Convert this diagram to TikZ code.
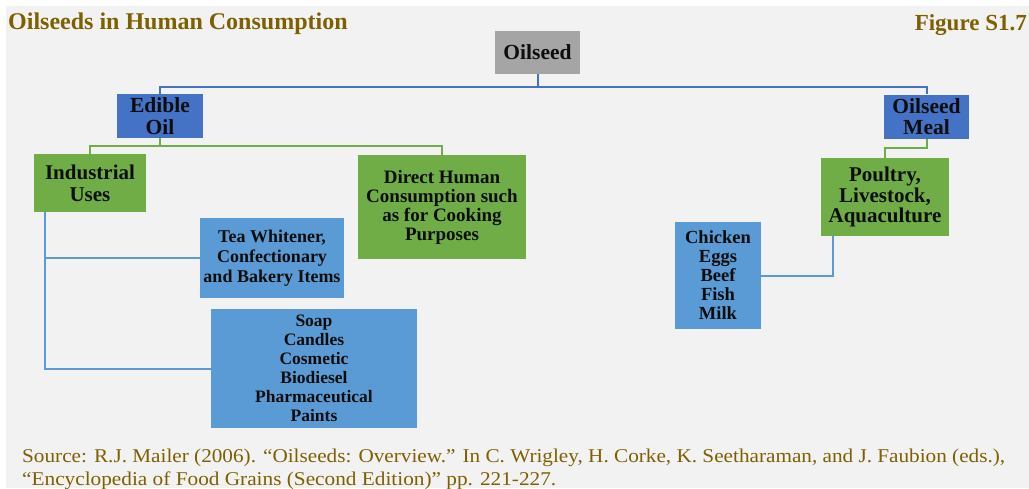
\documentclass[tikz,border=0pt]{standalone}
\usepackage{fontspec}
\setmainfont{Liberation Serif}
\usepackage{graphicx}
\definecolor{bgc}{HTML}{F2F2F2}
\definecolor{titlec}{HTML}{7F6000}
\definecolor{grayc}{HTML}{A5A5A5}
\definecolor{bluec}{HTML}{4472C4}
\definecolor{greenc}{HTML}{70AD47}
\definecolor{lbluec}{HTML}{5B9BD5}
\definecolor{txtc}{HTML}{0D0D0D}
\tikzset{
  boxnode/.style={inner sep=0pt, align=center, text=txtc, font=\bfseries},
  bigtxt/.style={font=\fontsize{21.5}{21.7}\selectfont\bfseries},
  midtxt/.style={font=\fontsize{18}{19.7}\selectfont\bfseries},
  smalltxt/.style={font=\fontsize{17.5}{19}\selectfont\bfseries},
  conn/.style={line width=2pt},
}
\begin{document}
\begin{tikzpicture}[x=1pt,y=-1pt]
\useasboundingbox (0,0) rectangle (1029,488);
\fill[bgc] (6,6) rectangle (1029,488);
% titles
\node[anchor=base west, inner sep=0pt, text=titlec, font=\fontsize{24}{26}\selectfont\bfseries] (title) at (8,29) {Oilseeds in Human Consumption};
\node[anchor=base east, inner sep=0pt, text=titlec, font=\fontsize{23}{26}\selectfont\bfseries] (fig) at (1027,30) {Figure S1.7};
% boxes
\node[boxnode, bigtxt, fill=grayc, minimum width=85pt, minimum height=43pt] (oilseed) at (537.5,52.5) {Oilseed};
\node[boxnode, bigtxt, fill=bluec, minimum width=86pt, minimum height=44pt] (edible) at (160,116) {Edible\\Oil};
\node[boxnode, bigtxt, fill=bluec, minimum width=85pt, minimum height=44pt] (meal) at (926.5,116.5) {Oilseed\\Meal};
\node[boxnode, fill=greenc, minimum width=112pt, minimum height=58pt, font=\fontsize{21}{21.7}\selectfont\bfseries] (indus) at (90,183) {Industrial\\Uses};
\node[boxnode, fill=greenc, minimum width=168pt, minimum height=104pt, font=\fontsize{19}{19}\selectfont\bfseries] (direct) at (442,207) {Direct Human\\Consumption such\\as for Cooking\\Purposes};
\node[boxnode, midtxt, fill=lbluec, minimum width=144pt, minimum height=80pt] (tea) at (272,258) {Tea Whitener,\\Confectionary\\and Bakery Items};
\node[boxnode, smalltxt, fill=lbluec, minimum width=206pt, minimum height=119pt] (soap) at (314,368.5) {Soap\\Candles\\Cosmetic\\Biodiesel\\Pharmaceutical\\Paints};
\node[boxnode, fill=greenc, minimum width=128pt, minimum height=78pt, font=\fontsize{21}{20.8}\selectfont\bfseries] (poultry) at (885,197) {Poultry,\\Livestock,\\Aquaculture};
\node[boxnode, fill=lbluec, minimum width=86pt, minimum height=107pt, font=\fontsize{18.5}{19}\selectfont\bfseries] (chicken) at (718,275.5) {Chicken\\Eggs\\Beef\\Fish\\Milk};
% connectors
\draw[conn, bluec] (oilseed.south) -- ++(0,13) -| (edible.north);
\draw[conn, bluec] (oilseed.south) -- ++(0,13) -| (meal.north);
\draw[conn, greenc] (edible.south) -- ++(0,7.5) -| (indus.north);
\draw[conn, greenc] (edible.south) -- ++(0,7.5) -| (direct.north);
\draw[conn, greenc] (meal.south) -- ++(0,9.5) -| (poultry.north);
\coordinate (iu) at ([xshift=11pt]indus.south west);
\draw[conn, lbluec] (iu) |- (tea.west);
\draw[conn, lbluec] (iu) |- (soap.west);
\coordinate (pc) at ([xshift=12pt]poultry.south west);
\draw[conn, lbluec] (pc) |- (chicken.east);
% source
\node[anchor=base west, inner sep=0pt, text=titlec, font=\fontsize{19.5}{24}\selectfont] (src1) at (22,462) {\resizebox{983pt}{\height}{Source: R.J. Mailer (2006). “Oilseeds: Overview.” In C. Wrigley, H. Corke, K. Seetharaman, and J. Faubion (eds.),}};
\node[anchor=base west, inner sep=0pt, text=titlec, font=\fontsize{19.5}{24}\selectfont] (src2) at (22,485) {\resizebox{534pt}{\height}{“Encyclopedia of Food Grains (Second Edition)” pp. 221-227.}};
\end{tikzpicture}
\end{document}
